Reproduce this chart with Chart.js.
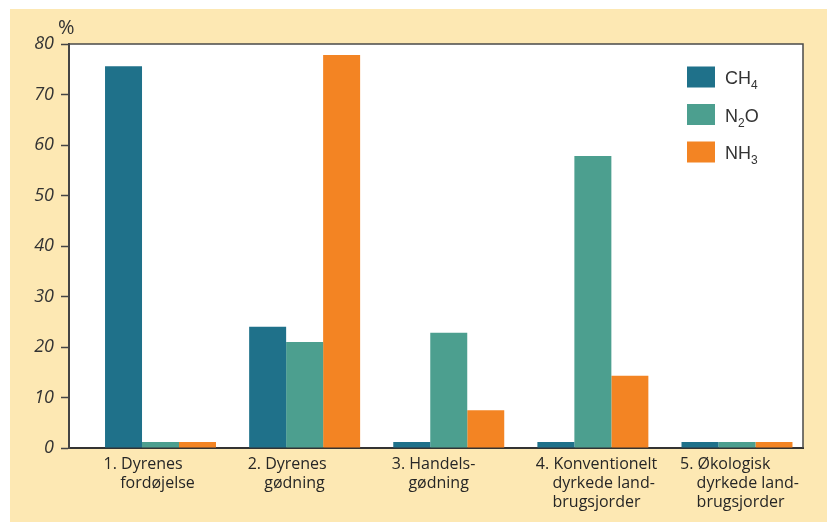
<!DOCTYPE html>
<html>
<head>
<meta charset="utf-8">
<script src="https://cdn.jsdelivr.net/npm/chart.js@4/dist/chart.umd.min.js"></script>
<style>
  html, body { margin: 0; padding: 0; background: #ffffff; }
  #wrap { width: 827px; height: 522px; }
</style>
</head>
<body>
<div id="wrap"><canvas id="gases"></canvas></div>
<script>
// categories (tick labels, one line per entry)
const categories = [
  ['1. Dyrenes', '    fordøjelse'],
  ['2. Dyrenes', '    gødning'],
  ['3. Handels-', '    gødning'],
  ['4. Konventionelt', '    dyrkede land-', '    brugsjorder'],
  ['5. Økologisk', '    dyrkede land-', '    brugsjorder']
];

// percent per gas
const ch4 = [75.6, 24.0, 1.2, 1.2, 1.2];
const n2o = [1.2, 21.0, 22.8, 57.8, 1.2];
const nh3 = [1.2, 77.8, 7.5, 14.3, 1.2];

const seriesNames = ['CH₄', 'N₂O', 'NH₃'];
const seriesColors = ['#1f718a', '#4c9f8f', '#f38423'];

const yTicks = [0, 10, 20, 30, 40, 50, 60, 70, 80];

const toPoints = arr => arr.map((v, i) => ({ x: i, y: v }));

// page background + white plot area + frame
const frame = {
  id: 'frame',
  beforeDraw(chart) {
    const ctx = chart.ctx, a = chart.chartArea;
    ctx.save();
    ctx.fillStyle = '#fde8b3';
    ctx.fillRect(10, 9, chart.width - 10, chart.height - 9);
    ctx.fillStyle = '#ffffff';
    ctx.fillRect(a.left, a.top, a.right - a.left, a.bottom - a.top);
    ctx.restore();
  },
  afterDraw(chart) {
    const ctx = chart.ctx, a = chart.chartArea;
    ctx.save();
    ctx.strokeStyle = '#4a4a4a';
    ctx.lineWidth = 1.5;
    ctx.beginPath();
    ctx.moveTo(a.left, a.top);
    ctx.lineTo(a.right, a.top);
    ctx.lineTo(a.right, a.bottom);
    ctx.stroke();
    // percent sign above the y axis
    ctx.fillStyle = '#333333';
    ctx.font = '20px "Open Sans"';
    ctx.textAlign = 'left';
    ctx.textBaseline = 'alphabetic';
    ctx.fillText('%', a.left - 11, a.top - 10);

    // legend with subscripts
    const subs = '₀₁₂₃₄₅₆₇₈₉';
    chart.data.datasets.forEach((ds, i) => {
      const bx = a.right - 116, cy = a.top + 33 + i * 37.5;
      ctx.fillStyle = ds.backgroundColor;
      ctx.fillRect(bx, cy - 10.5, 28, 21);
      let tx = bx + 38;
      for (const ch of ds.label) {
        const k = subs.indexOf(ch);
        ctx.fillStyle = '#333333';
        if (k >= 0) {
          ctx.font = '12px "Liberation Sans"';
          ctx.fillText(String(k), tx, cy + 12);
          tx += ctx.measureText(String(k)).width;
        } else {
          ctx.font = '18px "Liberation Sans"';
          ctx.fillText(ch, tx, cy + 7);
          tx += ctx.measureText(ch).width;
        }
      }
    });
    ctx.restore();
  }
};

new Chart(
  document.getElementById('gases'),
  {
    type: 'bar',
    data: {
      datasets: [ch4, n2o, nh3].map((arr, i) => ({
        label: seriesNames[i],
        data: toPoints(arr),
        backgroundColor: seriesColors[i],
        borderWidth: 0,
        categoryPercentage: 0.77,
        barPercentage: 1.0
      }))
    },
    options: {
      responsive: true,
      maintainAspectRatio: false,
      animation: false,
      layout: { padding: { left: 0, right: 24, top: 44, bottom: 0 } },
      plugins: {
        legend: { display: false },
        tooltip: { enabled: false }
      },
      scales: {
        x: {
          type: 'linear',
          offset: false,
          min: -0.635,
          max: 4.458,
          afterBuildTicks: scale => {
            scale.ticks = categories.map((c, i) => ({ value: i }));
          },
          afterFit: scale => {
            scale.height = 74;
            scale.paddingLeft = 0;
            scale.paddingRight = 0;
          },
          grid: { display: false, drawTicks: false },
          border: { display: true, color: '#333333', width: 2 },
          ticks: {
            align: 'start',
            labelOffset: -57,
            padding: 7,
            autoSkip: false,
            maxRotation: 0,
            color: '#262626',
            font: { family: '"Open Sans"', size: 16, weight: 500, lineHeight: 1.18 },
            callback: v => categories[v]
          }
        },
        y: {
          min: 0,
          max: 80,
          afterBuildTicks: scale => {
            scale.ticks = yTicks.map(v => ({ value: v }));
          },
          afterFit: scale => { scale.width = 69; },
          grid: {
            drawOnChartArea: false,
            drawTicks: true,
            tickLength: 8,
            tickColor: '#444444',
            tickWidth: 1.5
          },
          border: { display: true, color: '#444444', width: 2 },
          ticks: {
            padding: 7,
            color: '#333333',
            font: { family: '"Open Sans"', size: 18, style: 'italic' }
          }
        }
      }
    },
    plugins: [frame]
  }
);
</script>
</body>
</html>
